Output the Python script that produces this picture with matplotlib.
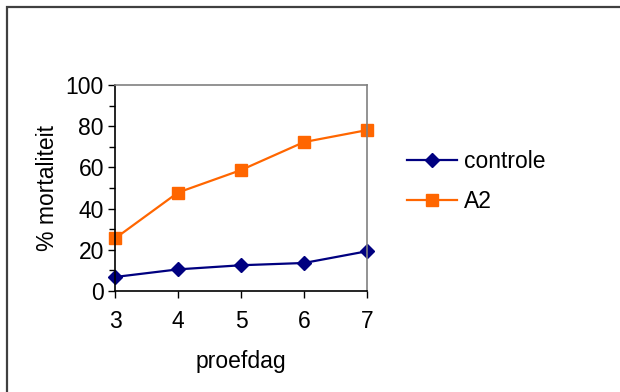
import numpy as np
import matplotlib.pyplot as plt
from matplotlib.patches import Rectangle

plt.rcParams['font.family'] = ['Liberation Sans', 'DejaVu Sans']

# mortality per test day
days = [3, 4, 5, 6, 7]
controle = [6.8, 10.5, 12.5, 13.6, 19.3]
a2 = [25.5, 47.8, 58.7, 72.3, 78.1]

fig = plt.figure(figsize=(6.2, 3.92), dpi=100)
ax = fig.add_axes([115/620, 101/392, 252/620, 206/392])

# outer chart frame (only top and left edges fall inside the image)
fig.patches.append(Rectangle((7/620, -0.1), 1.2, (392 - 7)/392 + 0.1,
                             transform=fig.transFigure, fill=False,
                             edgecolor='#404040', linewidth=1.6))

ax.plot(days, controle, color='#000080', marker='D', markersize=7.5,
        linewidth=1.6, label='controle', clip_on=False)
ax.plot(days, a2, color='#FF6600', marker='s', markersize=8.5,
        linewidth=1.6, label='A2', clip_on=False)

fs = 16.5
ax.set_xlim(3, 7)
ax.set_ylim(0, 100)
ax.set_xticks(days)
ax.set_yticks(np.arange(0, 101, 20))
ax.set_yticks(np.arange(10, 100, 20), minor=True)
ax.tick_params(axis='both', which='both', direction='out', labelsize=fs,
               width=1, color='black')
ax.tick_params(axis='y', which='major', length=5, pad=3)
ax.tick_params(axis='y', which='minor', length=4)
ax.tick_params(axis='x', which='major', length=5, pad=9)

for side in ['left', 'bottom']:
    ax.spines[side].set_color('black')
for side in ['top', 'right']:
    ax.spines[side].set_color('#808080')
for s in ax.spines.values():
    s.set_linewidth(1.2)

ax.set_xlabel('proefdag', fontsize=fs, labelpad=12)
ax.set_ylabel('% mortaliteit', fontsize=fs, labelpad=5)

ax.legend(loc='center left', bbox_to_anchor=(1.075, 0.53), frameon=False,
          fontsize=fs, handlelength=2.2, handletextpad=0.3, labelspacing=0.75)

plt.savefig('out.png', dpi=100)
